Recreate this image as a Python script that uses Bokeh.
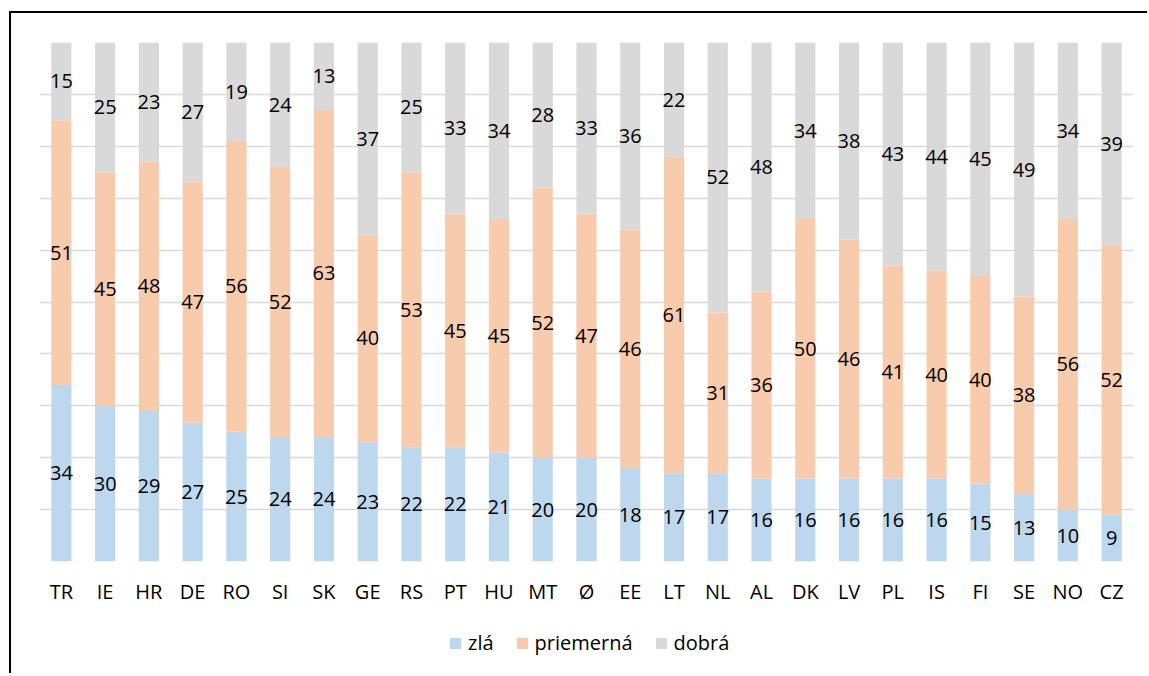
from bokeh.plotting import figure
from bokeh.layouts import column
from bokeh.models import (ColumnDataSource, FactorRange, Range1d, Legend, LegendItem,
                          SingleIntervalTicker)
from bokeh.core.properties import value
from bokeh.embed import file_html
from bokeh.resources import INLINE

categories = ["TR", "IE", "HR", "DE", "RO", "SI", "SK", "GE", "RS", "PT", "HU", "MT", "Ø",
              "EE", "LT", "NL", "AL", "DK", "LV", "PL", "IS", "FI", "SE", "NO", "CZ"]
zla = [34, 30, 29, 27, 25, 24, 24, 23, 22, 22, 21, 20, 20, 18, 17, 17, 16, 16, 16, 16, 16, 15, 13, 10, 9]
priemerna = [51, 45, 48, 47, 56, 52, 63, 40, 53, 45, 45, 52, 47, 46, 61, 31, 36, 50, 46, 41, 40, 40, 38, 56, 52]
dobra = [15, 25, 23, 27, 19, 24, 13, 37, 25, 33, 34, 28, 33, 36, 22, 52, 48, 34, 38, 43, 44, 45, 49, 34, 39]
series_names = ["zlá", "priemerná", "dobrá"]
colors = ["#BDD7EE", "#F8CBAD", "#D9D9D9"]

FONT = "Open Sans"
FS = "20px"
W = 1136

totals = [a + b + c for a, b, c in zip(zla, priemerna, dobra)]
n_zla = [v / t * 100 for v, t in zip(zla, totals)]
n_pri = [v / t * 100 for v, t in zip(priemerna, totals)]
n_dob = [v / t * 100 for v, t in zip(dobra, totals)]

src = ColumnDataSource(dict(cat=categories, s0=n_zla, s1=n_pri, s2=n_dob))

p = figure(x_range=FactorRange(*categories), y_range=Range1d(0, 100),
           width=W, height=610, output_backend="svg", toolbar_location=None,
           min_border_left=28, min_border_right=W - 28 - 1094, min_border_top=29,
           min_border_bottom=62)

renderers = p.vbar_stack(["s0", "s1", "s2"], x="cat", width=0.46, color=colors,
                         line_color=None, source=src)

# data labels at segment centres
lx, ly, lt = [], [], []
for raw, a, b in ((zla, [0] * len(n_zla), n_zla),
                  (priemerna, n_zla, n_pri),
                  (dobra, [x + y for x, y in zip(n_zla, n_pri)], n_dob)):
    for c, r, base, h in zip(categories, raw, a, b):
        lx.append(c)
        ly.append(base + h / 2)
        lt.append(str(r))
lsrc = ColumnDataSource(dict(x=lx, y=ly, t=lt))
p.text(x="x", y="y", text="t", source=lsrc, text_align="center", text_baseline="middle",
       text_font=value(FONT), text_font_size=FS, text_color="#000000")

p.yaxis.visible = False
p.xgrid.grid_line_color = None
p.ygrid.ticker = SingleIntervalTicker(interval=10)
p.ygrid.grid_line_color = "#D9D9D9"
p.ygrid.grid_line_width = 1.3
p.outline_line_color = None

ax = p.xaxis[0]
ax.axis_line_color = None
ax.major_tick_line_color = None
ax.minor_tick_line_color = None
ax.major_tick_out = 0
ax.major_tick_in = 0
ax.major_label_standoff = 16
ax.major_label_text_font = FONT
ax.major_label_text_font_size = FS
ax.major_label_text_color = "#000000"

# legend strip below the chart: same series, viewed outside its value range so only
# the legend swatches show
p2 = figure(width=W, height=50, output_backend="svg", toolbar_location=None,
            min_border=0, x_range=FactorRange(*categories), y_range=Range1d(200, 201))
p2.axis.visible = False
p2.grid.grid_line_color = None
p2.outline_line_color = None
swatches = p2.vbar_stack(["s0", "s1", "s2"], x="cat", width=0.46, color=colors,
                         line_color=None, source=src)
legend = Legend(items=[LegendItem(label=n, renderers=[r]) for n, r in zip(series_names, swatches)],
                orientation="horizontal", location=(409, 17))
legend.glyph_width = 14
legend.glyph_height = 14
legend.label_standoff = 6
legend.spacing = 21
legend.padding = 0
legend.margin = 0
legend.border_line_color = None
legend.background_fill_alpha = 0
legend.label_text_font = FONT
legend.label_text_font_size = FS
legend.label_text_color = "#000000"
p2.add_layout(legend)

layout = column(p, p2, spacing=0)
layout.styles = {"border-left": "2px solid black", "border-top": "2px solid black",
                 "margin-left": "9px", "margin-top": "11px"}
open("out.html", "w").write(file_html(layout, INLINE))
